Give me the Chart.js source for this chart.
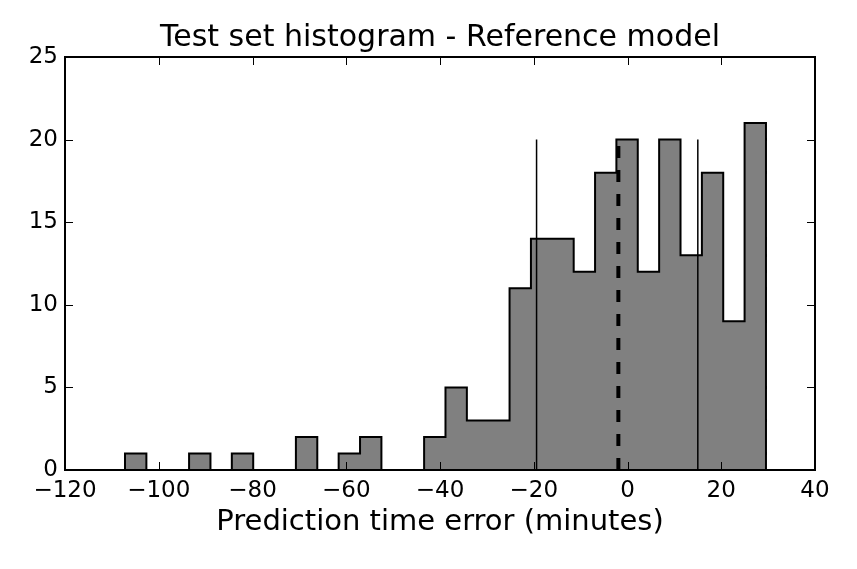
<!DOCTYPE html>
<html>
<head>
<meta charset="utf-8">
<script src="https://cdn.jsdelivr.net/npm/chart.js@4/dist/chart.umd.min.js"></script>
<style>
  html, body { margin: 0; padding: 0; background: #ffffff; }
  #wrap { width: 857px; height: 569px; }
</style>
</head>
<body>
<div id="wrap"><canvas id="chart"></canvas></div>
<script>
// Histogram bin edges (minutes) and counts per bin.
const binEdges = [
  -107.2, -102.64, -98.08, -93.53, -88.97, -84.41, -79.85, -75.29, -70.74, -66.18,
  -61.62, -57.06, -52.5, -47.95, -43.39, -38.83, -34.27, -29.71, -25.16, -20.6,
  -16.04, -11.48, -6.92, -2.37, 2.19, 6.75, 11.31, 15.87, 20.42, 24.98, 29.54,
];
const binCounts = [
  1, 0, 0, 1, 0, 1, 0, 0, 2, 0,
  1, 2, 0, 0, 2, 5, 3, 3, 11, 14,
  14, 12, 18, 20, 12, 20, 13, 18, 9, 21,
];

// Vertical marker lines: x position and height.
const solidMarkers = [-19.4, 15.0];
const dashedMarker = -1.95;
const markerHeight = 20;

const xTicks = [-120, -100, -80, -60, -40, -20, 0, 20, 40];
const yTicks = [0, 5, 10, 15, 20, 25];

const fontFamily = "'DejaVu Sans', sans-serif";

// step outline: start at 0, one point per bin, drop to 0 at the last edge
const histPoints = [{ x: binEdges[0], y: 0 }];
binCounts.forEach((c, i) => histPoints.push({ x: binEdges[i], y: c }));
histPoints.push({ x: binEdges[binEdges.length - 1], y: 0 });

const markerLine = (x) => [{ x: x, y: 0 }, { x: x, y: markerHeight }];

const datasets = [
  {
    data: histPoints,
    stepped: "before",
    borderColor: "#000000",
    borderWidth: 2,
    backgroundColor: "#808080",
    fill: "origin",
    pointRadius: 0,
    order: 3,
  },
  ...solidMarkers.map((x) => ({
    data: markerLine(x),
    borderColor: "#000000",
    borderWidth: 1.5,
    pointRadius: 0,
    fill: false,
    order: 1,
  })),
  {
    data: markerLine(dashedMarker),
    borderColor: "#000000",
    borderWidth: 4,
    borderDash: [12, 12],
    pointRadius: 0,
    fill: false,
    order: 1,
  },
];

// matplotlib style frame with inward ticks on all four sides
const frameTicks = {
  id: "frameTicks",
  afterDatasetsDraw(chart) {
    const { ctx, chartArea: a, scales } = chart;
    const len = 8;
    ctx.save();
    ctx.strokeStyle = "#000000";
    ctx.lineWidth = 1;
    ctx.beginPath();
    xTicks.forEach((v) => {
      const px = Math.round(scales.x.getPixelForValue(v)) + 0.5;
      ctx.moveTo(px, a.bottom);
      ctx.lineTo(px, a.bottom - len);
      ctx.moveTo(px, a.top);
      ctx.lineTo(px, a.top + len);
    });
    yTicks.forEach((v) => {
      const py = Math.round(scales.y.getPixelForValue(v)) + 0.5;
      ctx.moveTo(a.left, py);
      ctx.lineTo(a.left + len, py);
      ctx.moveTo(a.right, py);
      ctx.lineTo(a.right - len, py);
    });
    ctx.stroke();
    ctx.lineWidth = 2;
    ctx.strokeRect(a.left, a.top, a.right - a.left, a.bottom - a.top);
    ctx.restore();
  },
};

const minusSign = (v) => String(v).replace("-", "\u2212");

new Chart(document.getElementById("chart"), {
  type: "line",
  data: { datasets },
  plugins: [frameTicks],
  options: {
    responsive: true,
    maintainAspectRatio: false,
    animation: false,
    layout: { padding: { top: 0, right: 42, bottom: 0, left: 0 } },
    scales: {
      x: {
        type: "linear",
        min: -120,
        max: 40,
        afterBuildTicks: (scale) => { scale.ticks = xTicks.map((v) => ({ value: v })); },
        afterFit: (scale) => { scale.height = 99; },
        grid: { display: false, drawTicks: false },
        border: { display: false },
        ticks: {
          color: "#000000",
          font: { family: fontFamily, size: 23 },
          padding: 7,
          maxRotation: 0,
          callback: (v) => minusSign(v),
        },
        title: {
          display: true,
          text: "Prediction time error (minutes)",
          color: "#000000",
          font: { family: fontFamily, size: 29 },
          padding: { top: 0, bottom: 29 },
        },
      },
      y: {
        min: 0,
        max: 25,
        afterBuildTicks: (scale) => { scale.ticks = yTicks.map((v) => ({ value: v })); },
        afterFit: (scale) => { scale.width = 65; },
        grid: { display: false, drawTicks: false },
        border: { display: false },
        ticks: {
          color: "#000000",
          font: { family: fontFamily, size: 23 },
          padding: 7,
        },
      },
    },
    plugins: {
      legend: { display: false },
      tooltip: { enabled: false },
      title: {
        display: true,
        fullSize: false,
        text: "Test set histogram - Reference model",
        color: "#000000",
        font: { family: fontFamily, size: 30, weight: "normal" },
        padding: { top: 20, bottom: 1 },
      },
    },
  },
});
</script>
</body>
</html>
